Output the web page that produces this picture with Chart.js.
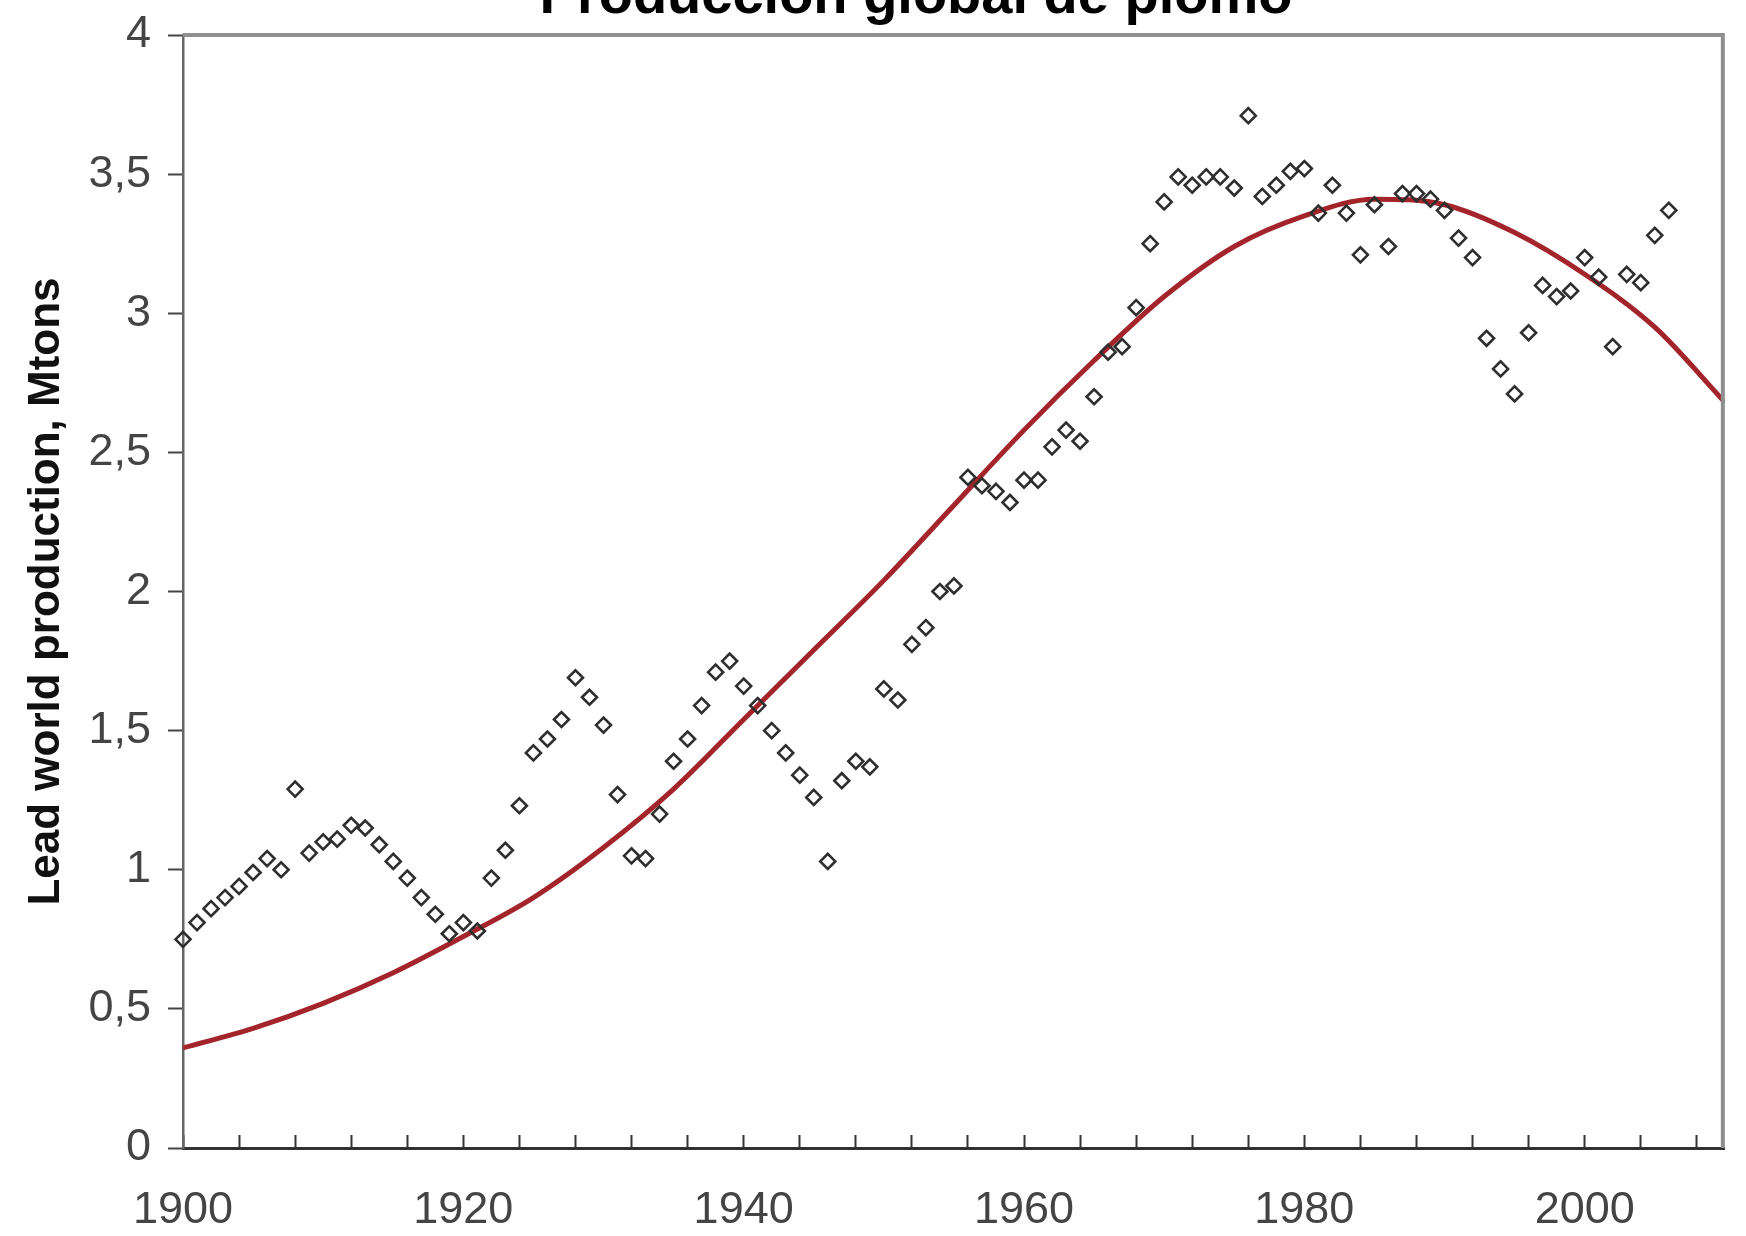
<!DOCTYPE html>
<html>
<head>
<meta charset="utf-8">
<title>Producción global de plomo</title>
<script src="https://cdn.jsdelivr.net/npm/chart.js"></script>
<style>
  body { margin: 0; background: #fff; overflow: hidden; }
  #wrap { position: relative; width: 1746px; height: 1236px; overflow: hidden; background: #fff; }
  #leadChart { position: absolute; left: 0; top: -36px; }
</style>
</head>
<body>
<div id="wrap">
  <canvas id="leadChart" width="1746" height="1272"></canvas>
</div>
<script>
// yearly world lead production (Mt)
var years = [
  1900, 1901, 1902, 1903, 1904, 1905, 1906, 1907, 1908, 1909,
  1910, 1911, 1912, 1913, 1914, 1915, 1916, 1917, 1918, 1919,
  1920, 1921, 1922, 1923, 1924, 1925, 1926, 1927, 1928, 1929,
  1930, 1931, 1932, 1933, 1934, 1935, 1936, 1937, 1938, 1939,
  1940, 1941, 1942, 1943, 1944, 1945, 1946, 1947, 1948, 1949,
  1950, 1951, 1952, 1953, 1954, 1955, 1956, 1957, 1958, 1959,
  1960, 1961, 1962, 1963, 1964, 1965, 1966, 1967, 1968, 1969,
  1970, 1971, 1972, 1973, 1974, 1975, 1976, 1977, 1978, 1979,
  1980, 1981, 1982, 1983, 1984, 1985, 1986, 1987, 1988, 1989,
  1990, 1991, 1992, 1993, 1994, 1995, 1996, 1997, 1998, 1999,
  2000, 2001, 2002, 2003, 2004, 2005, 2006
];
var production = [
  0.75, 0.81, 0.86, 0.90, 0.94, 0.99, 1.04, 1.00, 1.29, 1.06,
  1.10, 1.11, 1.16, 1.15, 1.09, 1.03, 0.97, 0.90, 0.84, 0.77,
  0.81, 0.78, 0.97, 1.07, 1.23, 1.42, 1.47, 1.54, 1.69, 1.62,
  1.52, 1.27, 1.05, 1.04, 1.20, 1.39, 1.47, 1.59, 1.71, 1.75,
  1.66, 1.59, 1.50, 1.42, 1.34, 1.26, 1.03, 1.32, 1.39, 1.37,
  1.65, 1.61, 1.81, 1.87, 2.00, 2.02, 2.41, 2.38, 2.36, 2.32,
  2.40, 2.40, 2.52, 2.58, 2.54, 2.70, 2.86, 2.88, 3.02, 3.25,
  3.40, 3.49, 3.46, 3.49, 3.49, 3.45, 3.71, 3.42, 3.46, 3.51,
  3.52, 3.36, 3.46, 3.36, 3.21, 3.39, 3.24, 3.43, 3.43, 3.41,
  3.37, 3.27, 3.20, 2.91, 2.80, 2.71, 2.93, 3.10, 3.06, 3.08,
  3.20, 3.13, 2.88, 3.14, 3.11, 3.28, 3.37
];

// fitted curve (red), sampled every 5 years
var fitYears = [1900, 1905, 1910, 1915, 1920, 1925, 1930, 1935, 1940, 1945, 1950, 1955,
                1960, 1965, 1970, 1975, 1980, 1985, 1990, 1995, 2000, 2005, 2010];
var fitValues = [0.36, 0.43, 0.52, 0.63, 0.76, 0.90, 1.08, 1.29, 1.54, 1.79, 2.04, 2.31,
                 2.58, 2.83, 3.06, 3.24, 3.35, 3.41, 3.39, 3.29, 3.14, 2.95, 2.68];

var yearLabels = [1900, 1920, 1940, 1960, 1980, 2000];

// grey frame on top and right of the plot area
var plotFrame = {
  id: 'plotFrame',
  afterDatasetsDraw: function(chart) {
    var a = chart.chartArea, ctx = chart.ctx;
    ctx.save();
    ctx.strokeStyle = '#8f8f8f';
    ctx.lineWidth = 4;
    ctx.beginPath();
    ctx.moveTo(a.left, a.top);
    ctx.lineTo(a.right - 2, a.top);
    ctx.lineTo(a.right - 2, a.bottom);
    ctx.stroke();
    ctx.restore();
  }
};

var ctx = document.getElementById('leadChart');
var leadChart = new Chart(ctx, {
  type: 'scatter',
  data: {
    datasets: [{
      label: 'Producción',
      data: production.map(function(v, i) { return {x: years[i], y: v}; }),
      pointStyle: 'rectRot',
      pointRadius: 7.5,
      pointBorderWidth: 2.6,
      pointBorderColor: '#2e2e2e',
      pointBackgroundColor: 'rgba(255,255,255,0)',
      clip: false
    }, {
      label: 'Ajuste',
      data: fitValues.map(function(v, i) { return {x: fitYears[i], y: v}; }),
      showLine: true,
      borderColor: '#a3242a',
      borderWidth: 5,
      pointRadius: 0,
      cubicInterpolationMode: 'monotone'
    }]
  },
  options: {
    responsive: false,
    animation: false,
    layout: { padding: { left: 86, right: 0, top: 0, bottom: 0 } },
    plugins: {
      legend: { display: false },
      tooltip: { enabled: false },
      title: {
        display: true,
        text: 'Producción global de plomo',
        color: '#000',
        font: { family: 'Liberation Sans, Arial, sans-serif', size: 56, weight: 'bold', lineHeight: 1.2 },
        padding: { top: 0, bottom: 3.8 }
      }
    },
    scales: {
      x: {
        type: 'linear',
        min: 1900,
        max: 2010,
        afterFit: function(scale) { scale.height = 88; },
        border: { color: '#333', width: 3 },
        grid: { drawOnChartArea: false, tickLength: -13, tickColor: '#333', tickWidth: 2 },
        ticks: {
          stepSize: 4,
          includeBounds: false,
          autoSkip: false,
          maxRotation: 0,
          minRotation: 0,
          padding: 49,
          color: '#444',
          font: { family: 'Liberation Sans, Arial, sans-serif', size: 45 },
          callback: function(v) { return yearLabels.indexOf(v) >= 0 ? String(v) : ''; }
        }
      },
      y: {
        min: 0,
        max: 4,
        afterFit: function(scale) { scale.width = 97; },
        border: { color: '#666', width: 2.5 },
        grid: { drawOnChartArea: false, tickLength: 15, tickColor: '#444', tickWidth: 2 },
        ticks: {
          stepSize: 0.5,
          padding: 17,
          color: '#444',
          font: { family: 'Liberation Sans, Arial, sans-serif', size: 45 },
          callback: function(v) { return String(v).replace('.', ','); }
        },
        title: {
          display: true,
          text: 'Lead world production, Mtons',
          color: '#111',
          font: { family: 'Liberation Sans, Arial, sans-serif', size: 44, weight: 'bold', lineHeight: 1.2 },
          padding: { top: -66, bottom: 0 }
        }
      }
    }
  },
  plugins: [plotFrame]
});
</script>
</body>
</html>
